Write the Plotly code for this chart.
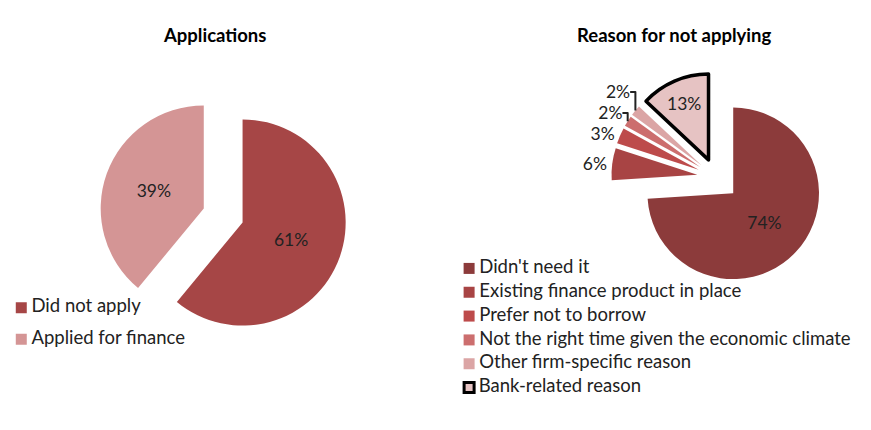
import plotly.graph_objects as go

# Data
app_labels = ["Did not apply", "Applied for finance"]
app_values = [61, 39]
app_colors = ["#A64646", "#D49595"]

reason_labels = ["Didn't need it", "Existing finance product in place", "Prefer not to borrow",
                 "Not the right time given the economic climate", "Other firm-specific reason",
                 "Bank-related reason"]
reason_values = [74, 6, 3, 2, 2, 13]
reason_colors = ["#8C3B3B", "#A84444", "#BD4B4B", "#CC6E6E", "#DBA5A5", "#E6C3C3"]
reason_line_w = [0, 0, 0, 0, 0, 3.5]
reason_pull = [0.275, 0.22, 0.22, 0.22, 0.22, 0.22]
reason_textpos = ["inside", "outside", "outside", "outside", "outside", "inside"]

FONT = "Lato"
W, H = 871, 430

def px_x(v):
    return min(max(v / W, 0.0), 1.0)

def px_y(v):
    return min(max(1 - v / H, 0.0), 1.0)

fig = go.Figure()

fig.add_trace(go.Pie(
    labels=app_labels, values=app_values, sort=False, direction="clockwise", rotation=0,
    marker=dict(colors=app_colors, line=dict(width=0)),
    pull=[0.2, 0.2], texttemplate="%{value}%", textposition="inside",
    textfont=dict(family=FONT, size=17.5, color="#222"),
    domain=dict(x=[px_x(100.5), px_x(350.5)], y=[px_y(340.3), px_y(90.7)]),
    showlegend=False, hoverinfo="label+value",
))

fig.add_trace(go.Pie(
    labels=reason_labels, values=reason_values, sort=False, direction="clockwise", rotation=0,
    marker=dict(colors=reason_colors, line=dict(width=reason_line_w, color="black")),
    pull=reason_pull, texttemplate="%{value}%", textposition=reason_textpos,
    textfont=dict(family=FONT, size=17.5, color="#222"),
    domain=dict(x=[px_x(613), px_x(834)], y=[px_y(288), px_y(66.4)]),
    showlegend=False, hoverinfo="label+value",
))

# Legends drawn as marker + text rows, one row per category
fig.add_trace(go.Scatter(
    x=[0] * len(app_labels), y=list(range(len(app_labels))), xaxis="x", yaxis="y",
    mode="markers+text", text=["\u2009" + t for t in app_labels], textposition="middle right",
    textfont=dict(family=FONT, size=18.5, color="#222"),
    marker=dict(symbol="square", size=11, color=app_colors, line=dict(width=0), opacity=1),
    cliponaxis=False, showlegend=False, hoverinfo="skip",
))
fig.add_trace(go.Scatter(
    x=[0] * len(reason_labels), y=list(range(len(reason_labels))), xaxis="x2", yaxis="y2",
    mode="markers+text", text=["\u2009" + t for t in reason_labels], textposition="middle right",
    textfont=dict(family=FONT, size=18.5, color="#222"),
    marker=dict(symbol="square", size=[11 if w == 0 else 10 for w in reason_line_w],
                color=reason_colors, opacity=1,
                line=dict(width=[0 if w == 0 else 3 for w in reason_line_w], color="black")),
    cliponaxis=False, showlegend=False, hoverinfo="skip",
))

fig.update_layout(
    width=W, height=H, margin=dict(l=0, r=0, t=0, b=0),
    paper_bgcolor="white", plot_bgcolor="rgba(0,0,0,0)",
    font=dict(family=FONT, size=17, color="#222"),
    showlegend=False,
    xaxis=dict(domain=[px_x(21.5), px_x(300)], range=[0, 1], visible=False, fixedrange=True),
    yaxis=dict(domain=[px_y(355), px_y(292)], range=[len(app_labels) - 0.5, -0.5],
               visible=False, fixedrange=True),
    xaxis2=dict(domain=[px_x(474), px_x(860)], range=[0, 1], visible=False, fixedrange=True,
                anchor="y2"),
    yaxis2=dict(domain=[px_y(399.5), px_y(256.5)], range=[len(reason_labels) - 0.5, -0.5],
                visible=False, fixedrange=True, anchor="x2"),
    annotations=[
        dict(text="<b>Applications</b>", x=px_x(217), y=px_y(35), xref="paper", yref="paper",
             xanchor="center", yanchor="middle",
             showarrow=False, font=dict(size=18.5, family=FONT, color="black")),
        dict(text="<b>Reason for not applying</b>", x=px_x(681), y=px_y(35), xref="paper", yref="paper",
             xanchor="center", yanchor="middle",
             showarrow=False, font=dict(size=18.5, family=FONT, color="black")),
    ],
)

fig.write_html(
    "out.html",
    config={"displayModeBar": False},
    post_script="document.documentElement.style.margin='0';document.body.style.margin='0';"
                "document.body.style.overflow='hidden';",
)
